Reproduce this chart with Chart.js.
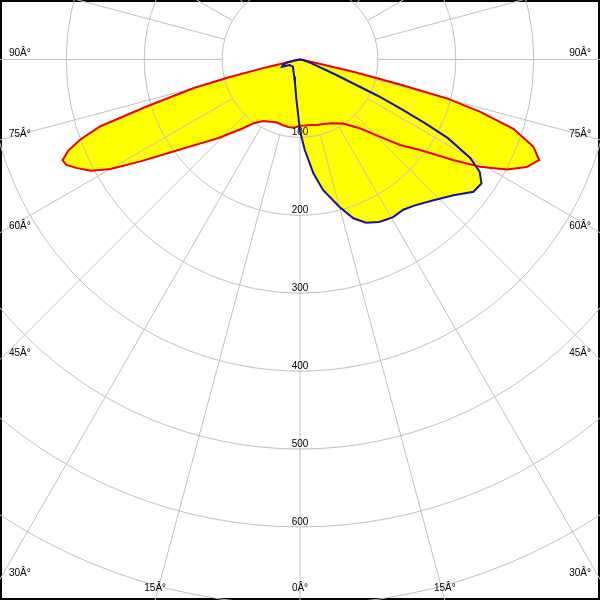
<!DOCTYPE html>
<html>
<head>
<meta charset="utf-8">
<script src="https://cdn.jsdelivr.net/npm/chart.js@4.4.1/dist/chart.umd.min.js"></script>
<style>
  html, body { margin: 0; padding: 0; background: #fff; }
  canvas { display: block; }
</style>
</head>
<body>
<canvas id="chart" width="600" height="600"></canvas>
<script>
// Polar intensity diagram, angles in degrees from nadir (negative = left), values in cd

// C0-C180 plane (red)
const redAngles = [-90, -85, -80, -78, -77, -76, -75, -73, -71.5, -70, -68.5, -67, -65.7, -64, -62, -60, -57.5, -54, -50, -46, -43.5, -40, -36, -31, -25, -20, -15, -10, -5, 0, 5, 9, 15, 20, 27, 34, 41, 46, 49.5, 53, 56.7, 59.2, 62, 64.6, 67.2, 69.5, 72, 73.8, 75.2, 76, 77, 78, 80, 85, 90];
const redValues = [0, 2, 5, 15, 45, 95, 140, 205, 270, 300, 320, 331, 329, 318, 304, 281, 244, 201, 168, 145, 131, 116, 101, 92, 88, 86, 87, 88, 88, 85, 85, 85, 87, 88, 92, 99, 117, 143, 169, 193, 235, 269, 301, 322, 333, 320, 288, 241, 195, 130, 70, 20, 5, 2, 0];

// C90-C270 plane (blue)
const blueAngles = [-90, -82, -77, -72, -68, -62, -45, -19, -12, -5, 0, 3, 6.7, 10, 15, 18.6, 22, 26, 30.6, 34.5, 38, 43.5, 48.5, 52.7, 55.7, 58, 60, 62, 63, 64, 65, 67, 72, 80, 90];
const blueValues = [0, 6, 17, 23, 25, 15, 13, 23, 31, 52, 92, 116, 147, 170, 196, 215, 226, 232, 235, 234, 238, 249, 263, 280, 282, 272, 252, 215, 180, 145, 110, 50, 15, 4, 0];

// grid
const ringValues = [100, 200, 300, 400, 500, 600, 700, 800];
const ringLabels = ['100', '200', '300', '400', '500', '600'];
const angleStep = 15;
const angleLabels = [0, 15, 30, 45, 60, 75, 90];

function toPoints(angles, values) {
  return angles.map((a, i) => {
    const t = a * Math.PI / 180;
    return { x: values[i] * Math.sin(t), y: -values[i] * Math.cos(t) };
  });
}

const polarGrid = {
  id: 'polarGrid',
  beforeDraw(chart) {
    const ctx = chart.ctx;
    ctx.save();
    ctx.fillStyle = '#ffffff';
    ctx.fillRect(0, 0, chart.width, chart.height);
    ctx.strokeStyle = '#000000';
    ctx.lineWidth = 2;
    ctx.strokeRect(1, 1, chart.width - 2, chart.height - 2);
    ctx.restore();
  },
  beforeDatasetsDraw(chart) {
    const { ctx, scales: { x, y } } = chart;
    const cx = x.getPixelForValue(0);
    const cy = y.getPixelForValue(0);
    const k = (x.getPixelForValue(100) - cx) / 100;
    ctx.save();
    ctx.strokeStyle = '#c0c0c0';
    ctx.lineWidth = 1;
    // circles
    ringValues.forEach(v => {
      ctx.beginPath();
      ctx.arc(cx, cy, v * k, 0, Math.PI * 2);
      ctx.stroke();
    });
    // radial lines, starting at the first ring
    const r0 = ringValues[0] * k;
    const r1 = 2000 * k;
    for (let a = 0; a < 360; a += angleStep) {
      const t = a * Math.PI / 180;
      const s = Math.sin(t), c = Math.cos(t);
      ctx.beginPath();
      ctx.moveTo(cx + r0 * s, cy + r0 * c);
      ctx.lineTo(cx + r1 * s, cy + r1 * c);
      ctx.stroke();
    }
    ctx.restore();
  },
  afterDatasetsDraw(chart) {
    const { ctx, scales: { x, y } } = chart;
    const cx = x.getPixelForValue(0);
    const cy = y.getPixelForValue(0);
    const k = (x.getPixelForValue(100) - cx) / 100;
    const W = chart.width, H = chart.height;
    ctx.save();
    ctx.fillStyle = '#000000';
    ctx.font = '10px "Liberation Sans", Arial, sans-serif';
    ctx.textBaseline = 'middle';

    // ring labels along the 0 line
    ctx.textAlign = 'center';
    ringLabels.forEach((lbl, i) => {
      ctx.fillText(lbl, cx, cy + ringValues[i] * k - 5);
    });

    // angle labels where each ray leaves the picture
    angleLabels.forEach(a => {
      [-1, 1].forEach(side => {
        if (a === 0 && side === 1) return;
        const t = a * Math.PI / 180;
        const s = Math.sin(t), c = Math.cos(t);
        const tSide = s > 0 ? (side < 0 ? cx : W - cx) / s : Infinity;
        const tBottom = c > 1e-6 ? (H - cy) / c : Infinity;
        const text = a + '\u00C2\u00B0';
        if (tSide < tBottom) {
          const yy = cy + tSide * c - 6;
          ctx.textAlign = side < 0 ? 'left' : 'right';
          ctx.fillText(text, side < 0 ? 9 : W - 9, yy);
        } else {
          ctx.textAlign = 'center';
          ctx.fillText(text, cx + side * tBottom * s, H - 12);
        }
      });
    });
    ctx.restore();
  }
};

new Chart(document.getElementById('chart'), {
  type: 'scatter',
  data: {
    datasets: [
      {
        label: 'C0-C180',
        data: toPoints(redAngles, redValues),
        showLine: true,
        borderColor: '#e80000',
        backgroundColor: '#ffff00',
        borderWidth: 2,
        pointRadius: 0,
        tension: 0,
        fill: 'shape',
        order: 2
      },
      {
        label: 'C90-C270',
        data: toPoints(blueAngles, blueValues),
        showLine: true,
        borderColor: '#1414a0',
        backgroundColor: '#ffff00',
        borderWidth: 2,
        pointRadius: 0,
        tension: 0,
        fill: 'shape',
        order: 1
      }
    ]
  },
  options: {
    responsive: false,
    animation: false,
    layout: { padding: 0 },
    scales: {
      x: { type: 'linear', min: -385.1, max: 385.1, display: false },
      y: { type: 'linear', min: -693.8, max: 76.4, display: false }
    },
    plugins: {
      legend: { display: false },
      tooltip: { enabled: false },
      filler: { drawTime: 'beforeDatasetsDraw' }
    }
  },
  plugins: [polarGrid]
});
</script>
</body>
</html>
